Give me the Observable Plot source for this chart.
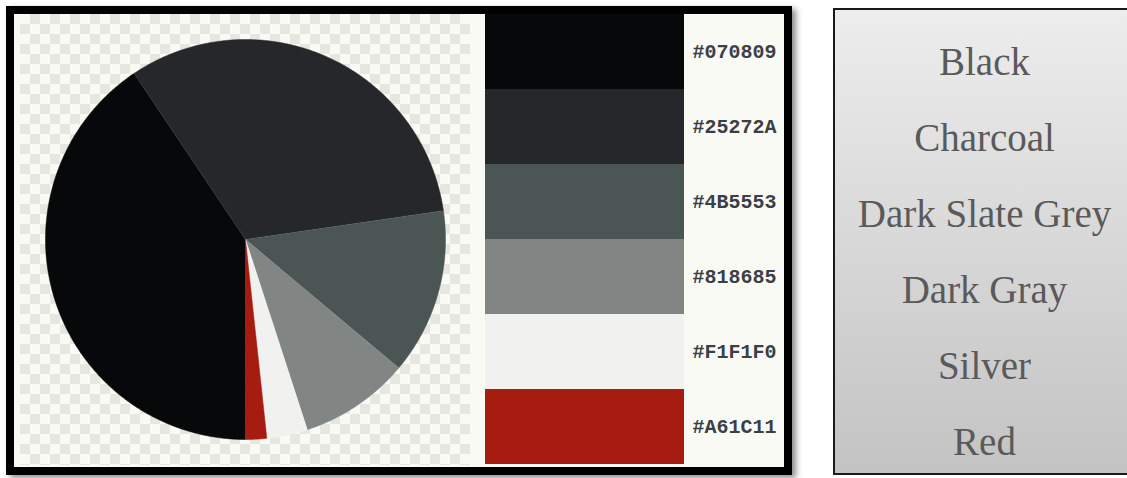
<!DOCTYPE html>
<html>
<head>
<meta charset="utf-8">
<script src="https://cdn.jsdelivr.net/npm/d3@7"></script>
<script src="https://cdn.jsdelivr.net/npm/@observablehq/plot@0.6"></script>
<style>
  html, body { margin: 0; padding: 0; background: #ffffff; width: 1127px; height: 478px; overflow: hidden; position: relative; }
  .frame { position: absolute; left: 6px; top: 6px; width: 786px; height: 469px; box-sizing: border-box;
           border: 8px solid #000; background: #fafaf5; box-shadow: 4px 3px 6px rgba(0,0,0,0.45); }
  .checker { position: absolute; left: 20px; top: 14px; width: 450px; height: 451px;
             background-color: #fafaf5;
             background-image: linear-gradient(45deg, #e7e7e1 25%, transparent 25%, transparent 75%, #e7e7e1 75%),
                               linear-gradient(45deg, #e7e7e1 25%, transparent 25%, transparent 75%, #e7e7e1 75%);
             background-size: 20px 20px; background-position: 0 0, 10px 10px; }
  .namesbox { position: absolute; left: 833px; top: 8px; width: 310px; height: 467px; box-sizing: border-box;
              border: 2px solid #1a1a1a; background: linear-gradient(to bottom, #ededed, #c3c3c3); }
  svg.abs { position: absolute; overflow: visible; }
</style>
</head>
<body>
<div class="frame"></div>
<div class="checker"></div>
<div class="namesbox"></div>
<script>
// ---- data ----
const names = ["Black", "Charcoal", "Dark Slate Grey", "Dark Gray", "Silver", "Red"];
const hexes = ["#070809", "#25272A", "#4B5553", "#818685", "#F1F1F0", "#A61C11"];
const shares = [40.6, 32.1, 13.4, 8.9, 3.3, 1.7];

// ---- pie slices as polygons (angles from d3.pie, clockwise from 12 o'clock, starting at 6 o'clock) ----
const arcs = d3.pie().sort(null).startAngle(Math.PI).endAngle(3 * Math.PI)(shares);
const piePts = [];
arcs.forEach((a, i) => {
  piePts.push({name: names[i], color: hexes[i], x: 0, y: 0});
  const n = Math.max(2, Math.ceil((a.endAngle - a.startAngle) / (Math.PI / 360)));
  for (let k = 0; k <= n; k++) {
    const t = a.startAngle + (a.endAngle - a.startAngle) * k / n;
    piePts.push({name: names[i], color: hexes[i], x: Math.sin(t), y: Math.cos(t)});
  }
});

const pie = Plot.plot({
  width: 470, height: 478, margin: 0,
  x: {domain: [-1, 1], range: [45, 445], axis: null},
  y: {domain: [-1, 1], range: [439, 39], axis: null},
  style: {background: "transparent"},
  marks: [
    Plot.line(piePts, {x: "x", y: "y", z: "name", fill: "color", stroke: "color", strokeWidth: 0.5})
  ]
});
pie.classList.add("abs");
pie.style.left = "0px"; pie.style.top = "0px";
document.body.appendChild(pie);

// ---- swatches + hex labels ----
const sw = Plot.plot({
  width: 298, height: 450, margin: 0,
  x: {domain: [0, 1], range: [0, 199], axis: null},
  y: {domain: hexes, range: [0, 450], padding: 0, axis: null},
  style: {background: "transparent"},
  marks: [
    Plot.barX(hexes, {x1: () => 0, x2: () => 1, y: d => d, fill: d => d, inset: 0}),
    Plot.text(hexes, {x: () => 1, y: d => d, text: d => d, textAnchor: "start", dx: 8,
      fontFamily: "Liberation Mono", fontWeight: "bold", fontSize: 20, fill: "#3b4046",
      style: "letter-spacing: 0.4px"})
  ]
});
sw.classList.add("abs");
sw.style.left = "485px"; sw.style.top = "14px";
document.body.appendChild(sw);

// ---- colour names ----
const nm = Plot.plot({
  width: 302, height: 478, margin: 0,
  x: {axis: null},
  y: {type: "point", domain: names, range: [60, 443], padding: 0, axis: null},
  style: {background: "transparent"},
  marks: [
    Plot.text(names, {y: d => d, text: d => d, frameAnchor: "middle",
      fontFamily: "Liberation Serif", fontSize: 39, fill: "#5a5a5a"})
  ]
});
nm.classList.add("abs");
nm.style.left = "833px"; nm.style.top = "0px";
document.body.appendChild(nm);
</script>
</body>
</html>
